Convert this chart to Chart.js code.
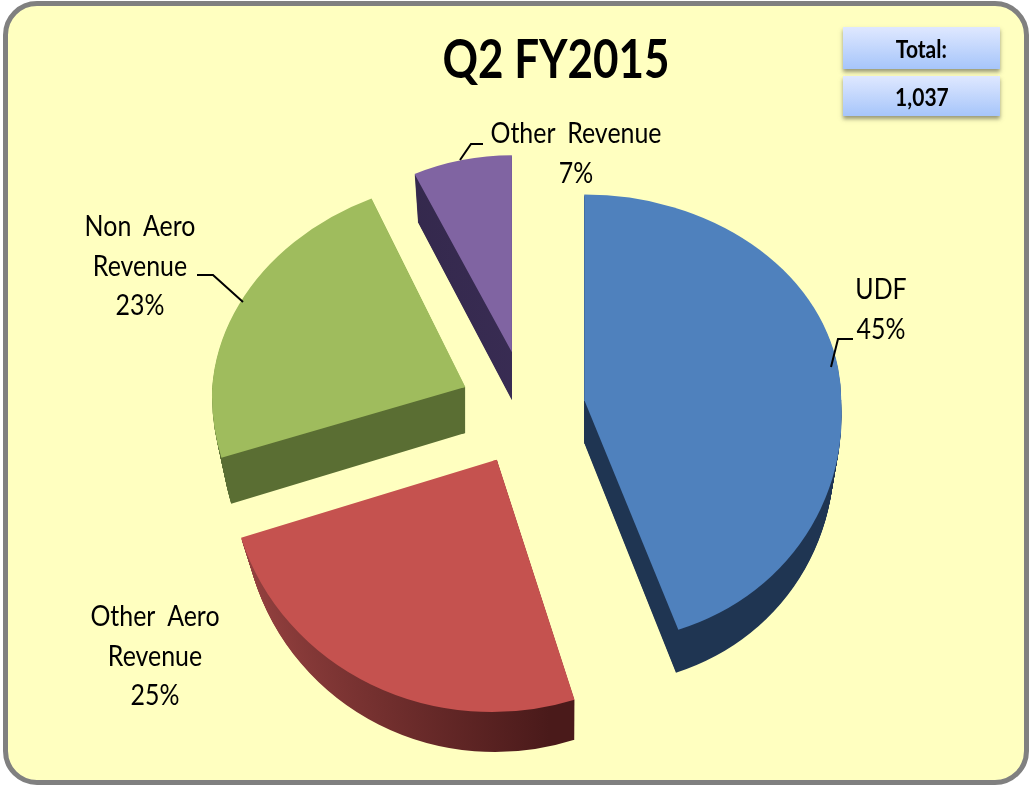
<!DOCTYPE html>
<html>
<head>
<meta charset="utf-8">
<title>Q2 FY2015</title>
<script src="https://cdn.jsdelivr.net/npm/chart.js@4"></script>
<style>
  html, body { margin: 0; padding: 0; background: #fff; }
  #wrap { position: relative; width: 1029px; height: 785px; overflow: hidden; font-family: Lato, sans-serif; color: #000; }
  #frame { position: absolute; left: 3px; top: 1px; width: 1016px; height: 774px; border: 5px solid #808080; border-radius: 34px; background: #ffffc0; }
  #pie { position: absolute; left: 0; top: 0; }
  #title { position: absolute; left: 356px; width: 400px; top: 24px; text-align: center; font-size: 53px; font-weight: 700; transform: scaleX(.83); line-height: 68px; }
  .box { position: absolute; left: 843px; width: 157px; text-align: center; font-weight: 700; font-size: 25px;
         background: linear-gradient(#dfe8ff, #a6c5fa); box-shadow: 0 3px 4px rgba(70, 70, 60, .55); }
  .box span { display: inline-block; transform: scaleX(.84); }
  #box1 { top: 27px; height: 42px; line-height: 42px; }
  #box2 { top: 76px; height: 40px; line-height: 40px; }
</style>
</head>
<body>
<div id="wrap">
  <div id="frame"></div>
  <canvas id="pie" width="1029" height="785"></canvas>
  <div id="title">Q2 FY2015</div>
  <div class="box" id="box1"><span>Total:</span></div>
  <div class="box" id="box2"><span>1,037</span></div>
</div>
<script>
const categories = ['UDF', 'Other Aero Revenue', 'Non Aero Revenue', 'Other Revenue'];
const shares = [45, 25, 23, 7];
const labelLines = [['UDF'], ['Other Aero', 'Revenue'], ['Non Aero', 'Revenue'], ['Other Revenue']];

const topColors = ['#4f81bd', '#c5524f', '#9fbc5d', '#8064a2'];
const wallColors = [['#1f3552', '#1f3552'], ['#a04745', '#4a1a1a'], ['#5a6e33', '#5a6e33'], ['#2e2444', '#3a2d55']];

// how far each slice is pulled out, and how it is flattened
// [x, above centre, below centre, shear above, shear below]
const explodeX = [60, 62, 65, 60];
const explodeY = [51, 58, 53, 57];
const sliceShape = [
  [1, .8, .94, 0, .06],
  [1.04, .982, .982, 0, -.02],
  [.985, .81, .89, -.06, -.04],
  [.89, .767, .767, 0, 0],
];
const wallDepth = [43, 40, 46, 48];
const wallLean = [-.03, -.04, -.04, -.03];
const wallShift = [0, 3, 0, 0];

const labelSpots = [[881, 290], [155, 617], [140, 227], [576, 134]];
const leaders = [
  [[853, 339], [838, 339], [831, 367]],
  [],
  [[197, 275], [213, 275], [243, 302]],
  [[483, 144], [471, 144], [460, 160]],
];

const drawSlice = (ctx, arc, i, drop) => {
  const mid = (arc.startAngle + arc.endAngle) / 2;
  const frac = drop / wallDepth[i];
  const ax = arc.x + Math.cos(mid) * explodeX[i] + wallShift[i] * frac;
  const ay = arc.y + Math.sin(mid) * explodeY[i] + drop;
  const [sx, up, down, shearUp, shearDown] = sliceShape[i];
  const split = Math.round(ay);

  [[0, split + 1, up, shearUp], [split, 785, down, shearDown]].forEach(([y0, y1, sy, shear]) => {
    ctx.save();
    ctx.beginPath();
    ctx.rect(0, y0, 1029, y1 - y0);
    ctx.clip();
    ctx.transform(sx + wallLean[i] * frac, 0, shear, sy, ax, ay);
    ctx.translate(-arc.x, -arc.y);
    arc.draw(ctx);
    ctx.restore();
  });
};

const pie3d = {
  id: 'pie3d',
  beforeDatasetsDraw(chart) {
    const ctx = chart.ctx;
    const arcs = chart.getDatasetMeta(0).data;

    arcs.forEach((arc, i) => {
      const plain = arc.options;
      const wall = ctx.createLinearGradient(230, 0, 580, 0);
      wall.addColorStop(0, wallColors[i][0]);
      wall.addColorStop(1, wallColors[i][1]);
      arc.options = Object.assign({}, plain, { backgroundColor: wall });
      for (let d = wallDepth[i]; d > 0; d--) {
        drawSlice(ctx, arc, i, d);
      }
      arc.options = plain;
      drawSlice(ctx, arc, i, 0);
    });
    return false;
  },
  afterDraw(chart) {
    const ctx = chart.ctx;
    ctx.save();
    ctx.strokeStyle = '#000';
    ctx.lineWidth = 2;
    leaders.forEach((line) => {
      if (!line.length) return;
      ctx.beginPath();
      line.forEach(([x, y], k) => (k ? ctx.lineTo(x, y) : ctx.moveTo(x, y)));
      ctx.stroke();
    });

    ctx.fillStyle = '#000';
    ctx.font = '28px Lato';
    ctx.wordSpacing = '6px';
    ctx.textAlign = 'center';
    ctx.textBaseline = 'middle';
    labelLines.forEach((lines, i) => {
      const rows = lines.concat(shares[i] + '%');
      rows.forEach((row, k) => {
        ctx.save();
        ctx.translate(labelSpots[i][0], labelSpots[i][1] + k * 39.7);
        ctx.scale(.89, 1);
        ctx.fillText(row, 0, 0);
        ctx.restore();
      });
    });
    ctx.restore();
  },
};

new Chart(document.getElementById('pie'), {
  type: 'pie',
  plugins: [pie3d],
  data: {
    labels: categories,
    datasets: [{
      data: shares,
      backgroundColor: topColors,
      borderWidth: 0,
    }],
  },
  options: {
    responsive: false,
    animation: false,
    radius: 257,
    layout: { padding: { left: 21, top: 31 } },
    plugins: {
      legend: { display: false },
      tooltip: { enabled: false },
    },
  },
});
</script>
</body>
</html>
